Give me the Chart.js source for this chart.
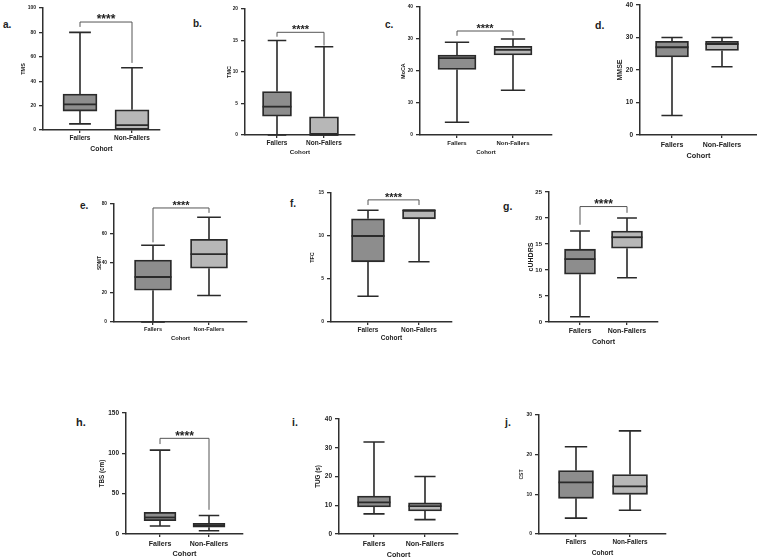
<!DOCTYPE html>
<html><head><meta charset="utf-8">
<script src="https://cdn.jsdelivr.net/npm/chart.js@4.4.1/dist/chart.umd.min.js"></script>
<style>
html,body{margin:0;padding:0;background:#fff;}
body{width:757px;height:560px;position:relative;overflow:hidden;font-family:'Liberation Sans',Arial,sans-serif;}
.pc{position:absolute;}
.lbl{position:absolute;font-weight:bold;color:#222;line-height:1;white-space:nowrap;}
</style></head><body>
<script>
const categories = ['Fallers', 'Non-Fallers'];
// five-number summaries: [min, Q1, median, Q3, max]
const tmsFallers = [5, 15.5, 21, 29.5, 80];
const tmsNonFallers = [0, 0, 4, 16.5, 51];
const tmsTicks = [0, 20, 40, 60, 80, 100];
const tmcFallers = [0, 3, 4.5, 6.9, 15];
const tmcNonFallers = [0, 0, 0, 2.9, 14];
const tmcTicks = [0, 5, 10, 15, 20];
const mocaFallers = [4, 20.5, 24, 25, 29];
const mocaNonFallers = [14, 25, 26.6, 27.7, 30];
const mocaTicks = [0, 10, 20, 30, 40];
const mmseFallers = [6, 24, 27, 28.8, 30];
const mmseNonFallers = [21, 26, 28, 28.8, 30];
const mmseTicks = [0, 10, 20, 30, 40];
const sdmtFallers = [0, 21.5, 30.5, 42, 52];
const sdmtNonFallers = [18, 36.5, 46, 56, 71];
const sdmtTicks = [0, 20, 40, 60, 80];
const tfcFallers = [3, 7, 10, 12, 13];
const tfcNonFallers = [7, 12, 13, 13, 13];
const tfcTicks = [0, 5, 10, 15];
const cuhdrsFallers = [1, 9.2, 12.1, 14, 17.5];
const cuhdrsNonFallers = [8.5, 14.2, 16.3, 17.5, 20];
const cuhdrsTicks = [0, 5, 10, 15, 20, 25];
const tbsFallers = [10, 16.5, 20.5, 27, 104];
const tbsNonFallers = [4, 8.5, 10.7, 13.3, 23];
const tbsTicks = [0, 50, 100, 150];
const tugFallers = [7, 9.4, 11, 13.2, 32];
const tugNonFallers = [5, 8, 9.7, 10.8, 20];
const tugTicks = [0, 10, 20, 30, 40];
const cstFallers = [4, 9, 13, 16, 22];
const cstNonFallers = [6, 10, 12, 15, 26];
const cstTicks = [0, 10, 20, 30];

const FONT = "'Liberation Sans', Arial, sans-serif";

const panels = [
  {letter:'a.', title:'TMS', f:tmsFallers, nf:tmsNonFallers, ticks:tmsTicks, stars:'****', br:[88.5,84.5,55],
   g:{axisX:43,yTop:8,yBot:130,xEnd:160,F:80,NF:132,boxW:34,titleX:23,fsT:5.5,fsTick:5,fsL:6.5,labelY:137.8,fsC:6.8,cohortY:149,fsS:12},
   lp:[3,26,10]},
  {letter:'b.', title:'TMC', f:tmcFallers, nf:tmcNonFallers, ticks:tmcTicks, stars:'****', br:[16.3,15.6,14.2],
   g:{axisX:245,yTop:9,yBot:135,xEnd:355,F:277,NF:324,boxW:29,titleX:229.5,fsT:5.5,fsTick:4.8,fsL:6.5,labelY:143.5,fsC:6.2,cohortY:152.5,fsS:11},
   lp:[193,25,10]},
  {letter:'c.', title:'MoCA', f:mocaFallers, nf:mocaNonFallers, ticks:mocaTicks, stars:'****', br:[32.5,31,31],
   g:{axisX:420,yTop:7,yBot:135,xEnd:552,F:457,NF:513,boxW:38,titleX:403.7,fsT:5.3,fsTick:4.8,fsL:6,labelY:143.5,fsC:6,cohortY:152.5,fsS:11},
   lp:[385,26,10]},
  {letter:'d.', title:'MMSE', f:mmseFallers, nf:mmseNonFallers, ticks:mmseTicks, stars:null, br:null,
   g:{axisX:640,yTop:5,yBot:135,xEnd:757,F:672,NF:722,boxW:33,titleX:620,fsT:7,fsTick:6.5,fsL:7,labelY:145.3,fsC:7.3,cohortY:155.7,fsS:12},
   lp:[595,26,10.5]},
  {letter:'e.', title:'SDMT', f:sdmtFallers, nf:sdmtNonFallers, ticks:sdmtTicks, stars:'****', br:[77.3,54,74],
   g:{axisX:114,yTop:204,yBot:322,xEnd:247,F:153,NF:209,boxW:37,titleX:99.5,fsT:5,fsTick:4.8,fsL:5.6,labelY:329.5,fsC:5.8,cohortY:338,fsS:11},
   lp:[80,207,10]},
  {letter:'f.', title:'TFC', f:tfcFallers, nf:tfcNonFallers, ticks:tfcTicks, stars:'****', br:[14.2,13.6,13.6],
   g:{axisX:331,yTop:193,yBot:322,xEnd:452,F:368,NF:419,boxW:33,titleX:312,fsT:5.5,fsTick:5,fsL:6.5,labelY:330,fsC:6.5,cohortY:338,fsS:11},
   lp:[290,205,10]},
  {letter:'g.', title:'cUHDRS', f:cuhdrsFallers, nf:cuhdrsNonFallers, ticks:cuhdrsTicks, stars:'****', br:[22.2,18.7,21],
   g:{axisX:549,yTop:192,yBot:322,xEnd:658,F:580,NF:627,boxW:31,titleX:531,fsT:7,fsTick:6,fsL:7,labelY:331,fsC:7,cohortY:342,fsS:12},
   lp:[503,207,10.5]},
  {letter:'h.', title:'TBS (cm)', f:tbsFallers, nf:tbsNonFallers, ticks:tbsTicks, stars:'****', br:[118.6,111.5,30],
   g:{axisX:126,yTop:413,yBot:534,xEnd:243,F:160,NF:209,boxW:32,titleX:102.5,fsT:6.3,fsTick:6.5,fsL:7,labelY:543.7,fsC:7.3,cohortY:554,fsS:12},
   lp:[76,423,11]},
  {letter:'i.', title:'TUG (s)', f:tugFallers, nf:tugNonFallers, ticks:tugTicks, stars:null, br:null,
   g:{axisX:339,yTop:419,yBot:534,xEnd:458,F:374,NF:425,boxW:33,titleX:318,fsT:6.3,fsTick:6.5,fsL:7,labelY:544.5,fsC:7.2,cohortY:555,fsS:12},
   lp:[292,423,10.5]},
  {letter:'j.', title:'CST', f:cstFallers, nf:cstNonFallers, ticks:cstTicks, stars:null, br:null,
   g:{axisX:539,yTop:415,yBot:534,xEnd:666,F:576,NF:630,boxW:35,titleX:522,fsT:5,fsTick:5,fsL:6.4,labelY:542.7,fsC:6.6,cohortY:553,fsS:12},
   lp:[505,423,10.5]}
];

const boxPlugin = {
  id: 'boxWhisker',
  afterDatasetsDraw(chart, args, opts) {
    const ctx = chart.ctx, xs = chart.scales.x, ys = chart.scales.y;
    const ds = chart.data.datasets[0];
    const meta = chart.getDatasetMeta(0);
    ctx.save();
    ctx.strokeStyle = '#2a2a2a';
    ctx.lineCap = 'butt';
    ds.stats.forEach((s, i) => {
      const bar = meta.data[i];
      const cx = xs.getPixelForValue(i);
      const half = bar.width / 2;
      const cap = bar.width * 0.32;
      const pMin = ys.getPixelForValue(s[0]);
      const pQ1 = ys.getPixelForValue(s[1]);
      const pMed = ys.getPixelForValue(s[2]);
      const pQ3 = ys.getPixelForValue(s[3]);
      const pMax = ys.getPixelForValue(s[4]);
      ctx.lineWidth = 1.6;
      ctx.beginPath();
      if (s[4] > s[3]) {
        ctx.moveTo(cx, pQ3); ctx.lineTo(cx, pMax);
        ctx.moveTo(cx - cap, pMax); ctx.lineTo(cx + cap, pMax);
      }
      if (s[0] < s[1]) {
        ctx.moveTo(cx, pQ1); ctx.lineTo(cx, pMin);
        ctx.moveTo(cx - cap, pMin); ctx.lineTo(cx + cap, pMin);
      }
      ctx.stroke();
      ctx.lineWidth = 1.8;
      ctx.beginPath();
      ctx.moveTo(cx - half, pMed); ctx.lineTo(cx + half, pMed);
      ctx.stroke();
    });
    if (opts.br) {
      const [yv, lv, rv] = opts.br;
      const x0 = xs.getPixelForValue(0), x1 = xs.getPixelForValue(1);
      const py = ys.getPixelForValue(yv);
      ctx.strokeStyle = '#555';
      ctx.lineWidth = 1;
      ctx.beginPath();
      ctx.moveTo(x0, ys.getPixelForValue(lv));
      ctx.lineTo(x0, py);
      ctx.lineTo(x1, py);
      ctx.lineTo(x1, ys.getPixelForValue(rv));
      ctx.stroke();
      ctx.fillStyle = '#222';
      ctx.font = 'bold ' + opts.fsS + 'px ' + FONT;
      ctx.textAlign = 'center';
      ctx.textBaseline = 'alphabetic';
      ctx.fillText(opts.stars, (x0 + x1) / 2, py - 5.5 + 0.575 * opts.fsS);
    }
    ctx.restore();
  }
};

function makePanel(p) {
  const g = p.g;
  const W = g.axisX - g.titleX + 0.6 * g.fsT;
  const leftEdge = g.axisX - W;
  const L = Math.floor(leftEdge);
  const padL = leftEdge - L;
  const width = Math.ceil(g.xEnd - L) + 2;
  const padR = width - (g.xEnd - L);
  const T = Math.floor(g.yTop - 10);
  const padT = g.yTop - T;
  const bottomEdge = g.cohortY + 0.6 * g.fsC;
  const B = Math.ceil(bottomEdge);
  const height = B - T;
  const padB = B - bottomEdge;
  const H = bottomEdge - g.yBot;
  const u = g.NF - g.F;
  const xmin = -(g.F - g.axisX) / u;
  const xmax = 1 + (g.xEnd - g.NF) / u;
  const xTickLen = 3;
  const xPad = Math.max(0, g.labelY - g.yBot - xTickLen - 0.6 * g.fsL);

  const div = document.createElement('div');
  div.className = 'pc';
  div.style.left = L + 'px'; div.style.top = T + 'px';
  div.style.width = width + 'px'; div.style.height = height + 'px';
  const cv = document.createElement('canvas');
  cv.width = width; cv.height = height;
  cv.style.width = width + 'px'; cv.style.height = height + 'px';
  div.appendChild(cv);
  document.body.appendChild(div);

  const lab = document.createElement('div');
  lab.className = 'lbl';
  lab.textContent = p.letter;
  lab.style.fontSize = p.lp[2] + 'px';
  lab.style.left = p.lp[0] + 'px';
  lab.style.top = (p.lp[1] - 0.59 * p.lp[2]) + 'px';
  document.body.appendChild(lab);

  const axisColor = '#2f2f2f';
  new Chart(cv, {
    type: 'bar',
    data: {
      datasets: [{
        data: [{x: 0, y: [p.f[1], p.f[3]]}, {x: 1, y: [p.nf[1], p.nf[3]]}],
        stats: [p.f, p.nf],
        backgroundColor: ['#8d8d8d', '#b7b7b7'],
        borderColor: '#2a2a2a',
        borderWidth: 1.8,
        borderSkipped: false,
        barThickness: g.boxW
      }]
    },
    options: {
      responsive: false,
      animation: false,
      events: [],
      layout: {padding: {left: padL, right: padR, top: padT, bottom: padB}},
      plugins: {
        legend: {display: false},
        tooltip: {enabled: false},
        boxWhisker: {br: p.br, stars: p.stars, fsS: g.fsS}
      },
      scales: {
        x: {
          type: 'linear', min: xmin, max: xmax, offset: false,
          afterBuildTicks: s => { s.ticks = [{value: 0}, {value: 1}]; },
          afterFit: s => { s.height = H; },
          ticks: {
            callback: v => categories[v] ?? '',
            autoSkip: false, maxRotation: 0, minRotation: 0,
            font: {family: FONT, size: g.fsL, weight: 'bold'},
            color: '#222', padding: xPad
          },
          grid: {display: true, offset: false, drawOnChartArea: false, drawTicks: true, tickLength: xTickLen, color: axisColor, lineWidth: 1.3},
          border: {display: true, color: axisColor, width: 1.5},
          title: {display: true, text: 'Cohort', font: {family: FONT, size: g.fsC, weight: 'bold'}, color: '#222', padding: 0}
        },
        y: {
          type: 'linear', min: p.ticks[0], max: p.ticks[p.ticks.length - 1],
          afterBuildTicks: s => { s.ticks = p.ticks.map(v => ({value: v})); },
          afterFit: s => { s.width = W; },
          ticks: {
            callback: v => String(v),
            font: {family: FONT, size: g.fsTick, weight: 'bold'},
            color: '#222', padding: 3
          },
          grid: {display: true, offset: false, drawOnChartArea: false, drawTicks: true, tickLength: 4, color: axisColor, lineWidth: 1.3},
          border: {display: true, color: axisColor, width: 1.5},
          title: {display: true, text: p.title, font: {family: FONT, size: g.fsT, weight: 'bold'}, color: '#222', padding: 0}
        }
      }
    },
    plugins: [boxPlugin]
  });
}

panels.forEach(makePanel);
</script>
</body></html>
